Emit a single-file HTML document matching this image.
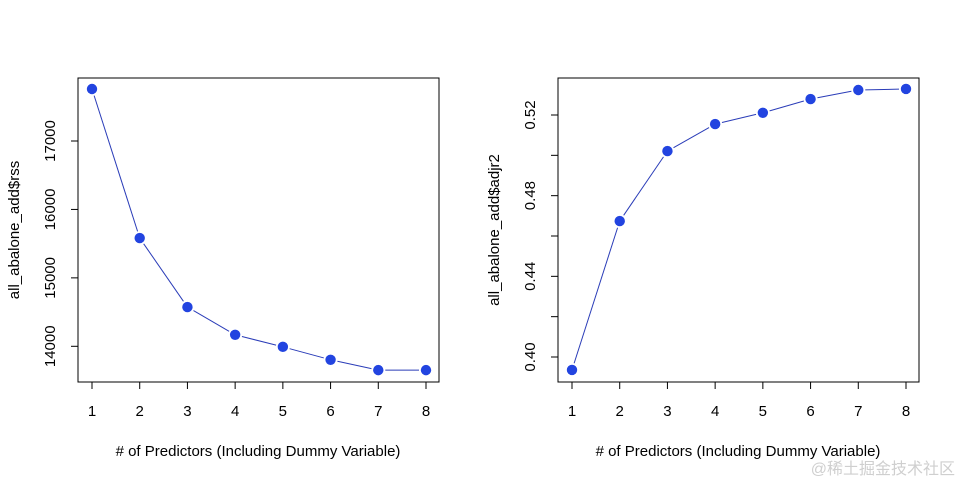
<!DOCTYPE html>
<html><head><meta charset="utf-8"><style>
body{margin:0;background:#fff}
svg text{font-family:"Liberation Sans","Noto Sans CJK SC",sans-serif;fill:#000}
</style></head><body>
<svg id="s" width="960" height="480" xmlns="http://www.w3.org/2000/svg"></svg>
<script>
const categories=[1,2,3,4,5,6,7,8];
const rssValues=[17760,15582,14573,14168,13992,13803,13652,13652];
const adjr2Values=[0.3936,0.4674,0.5021,0.5155,0.5211,0.5279,0.5324,0.5329];
const rssTicks=[14000,15000,16000,17000];
const rssTickLabels=["14000","15000","16000","17000"];
const adjTicks=[0.40,0.42,0.44,0.46,0.48,0.50,0.52];
const adjTickLabels=["0.40","","0.44","","0.48","","0.52"];
const NS="http://www.w3.org/2000/svg";
const svg=document.getElementById('s');
function mk(t,a,p){const e=document.createElementNS(NS,t);for(const k in a)e.setAttribute(k,a[k]);(p||svg).appendChild(e);return e;}
function panel(off,name,vals,ticks,labels,y0v,y0p,y1v,y1p,ylab){
  const g=mk('g',{});
  
  
  const xs=v=>off+92+(v-1)*(334/7);
  const ys=v=>y0p+(v-y0v)*(y1p-y0p)/(y1v-y0v);
  const box=mk('rect',{x:off+78,y:78,width:361,height:304,fill:'none',stroke:'#000','stroke-width':1},g);
  
  
  categories.forEach(c=>{
    mk('line',{x1:xs(c),x2:xs(c),y1:382,y2:389,stroke:'#000'},g);
    const t=mk('text',{x:xs(c),y:416,'font-size':15,'text-anchor':'middle'},g);t.textContent=c;
    
    
  });
  ticks.forEach((v,i)=>{
    const y=ys(v);
    mk('line',{x1:off+71,x2:off+78,y1:y,y2:y,stroke:'#000'},g);
    if(labels[i]){const t=mk('text',{x:0,y:0,'font-size':15,'text-anchor':'middle',transform:`translate(${off+55},${y}) rotate(-90)`},g);t.textContent=labels[i];
    
    }
  });
  const xl=mk('text',{x:off+258,y:456,'font-size':15,'text-anchor':'middle'},g);xl.textContent='# of Predictors (Including Dummy Variable)';
  
  
  const yl=mk('text',{x:0,y:0,'font-size':15,'text-anchor':'middle',transform:`translate(${off+19},${230}) rotate(-90)`},g);yl.textContent=ylab;
  
  
  for(let i=0;i<vals.length-1;i++){
    const ax=xs(categories[i]),ay=ys(vals[i]),bx=xs(categories[i+1]),by=ys(vals[i+1]);
    const dx=bx-ax,dy=by-ay,L=Math.hypot(dx,dy),g2=7;
    if(L>2*g2){const s=mk('line',{x1:ax+dx*g2/L,y1:ay+dy*g2/L,x2:bx-dx*g2/L,y2:by-dy*g2/L,stroke:'#2a3cb8','stroke-width':1},g);
    
    }
  }
  vals.forEach((v,i)=>{
    const c=mk('circle',{cx:xs(categories[i]),cy:ys(v),r:5.2,fill:'#2244e0'},g);
    
    
  });
}
panel(0,'rss-panel',rssValues,rssTicks,rssTickLabels,17000,141,14000,346.3,'all_abalone_add$rss');
panel(480,'adjr2-panel',adjr2Values,adjTicks,adjTickLabels,0.52,115,0.40,357,'all_abalone_add$adjr2');
const w=mk('text',{x:955,y:474,'font-size':16,'text-anchor':'end',fill:'#ccc',style:'fill:#cfcfcf'});w.textContent='@稀土掘金技术社区';


</script>
</body></html>
